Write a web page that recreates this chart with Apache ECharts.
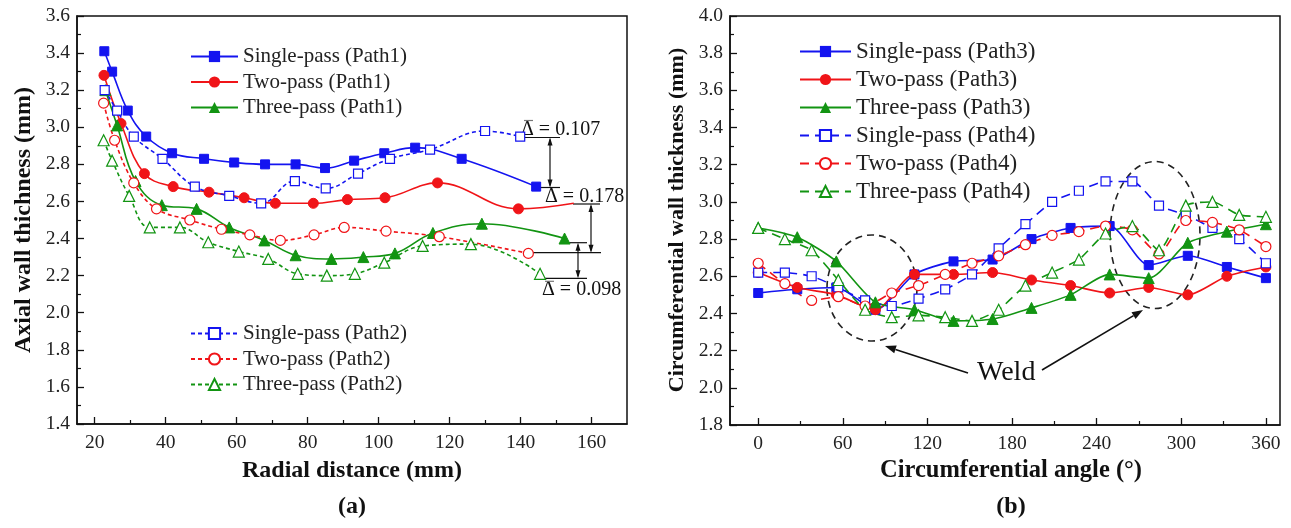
<!DOCTYPE html>
<html><head><meta charset="utf-8">
<script src="https://cdn.jsdelivr.net/npm/echarts@6/dist/echarts.min.js"></script>
<style>html,body{margin:0;padding:0;background:#fff}#c{width:1291px;height:528px}</style>
</head><body><div id="c"></div><script>
// ---------- (a) Axial wall thickness vs radial distance ----------
const p1SingleX = [22.7,24.9,29.3,34.5,41.8,50.8,59.3,68.0,76.6,84.9,93.1,101.6,110.3,123.4,144.4];
const p1SingleY = [3.41,3.30,3.09,2.95,2.86,2.83,2.81,2.80,2.80,2.78,2.82,2.86,2.89,2.83,2.68];
const p1TwoX = [22.6,27.4,34.0,42.1,52.2,62.1,70.9,81.6,91.2,101.8,116.6,139.4,155.0];
const p1TwoY = [3.28,3.02,2.75,2.68,2.65,2.62,2.59,2.59,2.61,2.62,2.70,2.56,2.59];
const p1ThreeX = [23.0,26.3,31.5,38.9,48.7,57.9,67.8,76.6,86.7,95.7,104.6,115.3,129.1,152.4];
const p1ThreeY = [3.20,3.01,2.71,2.58,2.56,2.46,2.39,2.31,2.29,2.30,2.32,2.43,2.48,2.40];
const p2SingleX = [22.8,26.3,31.0,39.1,48.2,57.9,66.9,76.4,85.1,94.2,103.2,114.5,130.0,139.9];
const p2SingleY = [3.20,3.09,2.95,2.83,2.68,2.63,2.59,2.71,2.67,2.75,2.83,2.88,2.98,2.95];
const p2TwoX = [22.5,25.6,31.0,37.4,46.8,55.7,63.7,72.3,81.8,90.3,102.1,117.1,142.2];
const p2TwoY = [3.13,2.93,2.70,2.56,2.50,2.45,2.42,2.39,2.42,2.46,2.44,2.41,2.32];
const p2ThreeX = [22.5,24.9,29.7,35.5,44.0,52.0,60.6,68.9,77.2,85.4,93.3,101.6,112.4,126.0,145.5];
const p2ThreeY = [2.93,2.82,2.63,2.46,2.46,2.38,2.33,2.29,2.21,2.20,2.21,2.27,2.36,2.37,2.21];
const radialTicks = [20,40,60,80,100,120,140,160];
const radialMinor = [30,50,70,90,110,130,150];

// ---------- (b) Circumferential wall thickness vs angle ----------
const anglesPath3 = [0,27.7,55.4,83.1,110.8,138.5,166.2,193.8,221.5,249.2,276.9,304.6,332.3,360];
const p3Single = [2.51,2.53,2.54,2.42,2.61,2.68,2.69,2.80,2.86,2.87,2.66,2.71,2.65,2.59];
const p3Two    = [2.62,2.54,2.50,2.42,2.61,2.61,2.62,2.58,2.55,2.51,2.54,2.50,2.60,2.65];
const p3Three  = [2.86,2.81,2.68,2.46,2.42,2.36,2.37,2.43,2.50,2.61,2.59,2.78,2.84,2.88];
const anglesPath4 = [0,18.9,37.9,56.8,75.8,94.7,113.7,132.6,151.6,170.5,189.5,208.4,227.4,246.3,265.3,284.2,303.2,322.1,341.1,360];
const p4Single = [2.62,2.62,2.60,2.54,2.47,2.44,2.48,2.53,2.61,2.75,2.88,3.00,3.06,3.11,3.11,2.98,2.93,2.86,2.80,2.67];
const p4Two    = [2.67,2.56,2.47,2.49,2.44,2.51,2.55,2.61,2.67,2.71,2.77,2.82,2.84,2.87,2.85,2.72,2.90,2.89,2.85,2.76];
const p4Three  = [2.86,2.80,2.74,2.58,2.42,2.38,2.39,2.38,2.36,2.42,2.55,2.62,2.69,2.83,2.87,2.74,2.98,3.00,2.93,2.92];
const angleTicks = [0,60,120,180,240,300,360];
const angleMinor = [30,90,150,210,270,330];

const BLUE = '#1414f0', RED = '#f01418', GREEN = '#129412';
const FONT = 'Liberation Serif';
const zip = (xs, ys) => xs.map((x, i) => [x, ys[i]]);

function ser(name, data, color, sym, open, dash, gi, smooth, size) {
  return {
    name, type: 'line', xAxisIndex: gi * 2, yAxisIndex: gi, data,
    smooth, symbol: sym, symbolSize: size,
    lineStyle: { color, width: 1.6, type: dash },
    itemStyle: open ? { color: '#fff', borderColor: color, borderWidth: 1.2 } : { color, borderColor: color },
    emphasis: { disabled: true }
  };
}
const redTwo1 = zip(p1TwoX, p1TwoY).map((d, i, a) => i === a.length - 1 ? { value: d, symbolSize: 0 } : d);

const series = [
  ser('Single-pass (Path1)', zip(p1SingleX, p1SingleY), BLUE, 'rect', false, 'solid', 0, 0.4, 9),
  ser('Two-pass (Path1)', redTwo1, RED, 'circle', false, 'solid', 0, 0.4, 10),
  ser('Three-pass (Path1)', zip(p1ThreeX, p1ThreeY), GREEN, 'triangle', false, 'solid', 0, 0.4, 11),
  ser('Single-pass (Path2)', zip(p2SingleX, p2SingleY), BLUE, 'rect', true, [4, 3], 0, 0.4, 9),
  ser('Two-pass (Path2)', zip(p2TwoX, p2TwoY), RED, 'circle', true, [4, 3], 0, 0.4, 10),
  ser('Three-pass (Path2)', zip(p2ThreeX, p2ThreeY), GREEN, 'triangle', true, [4, 3], 0, 0.4, 11),
  ser('Single-pass (Path3)', zip(anglesPath3, p3Single), BLUE, 'rect', false, 'solid', 1, 0.25, 9),
  ser('Two-pass (Path3)', zip(anglesPath3, p3Two), RED, 'circle', false, 'solid', 1, 0.25, 10),
  ser('Three-pass (Path3)', zip(anglesPath3, p3Three), GREEN, 'triangle', false, 'solid', 1, 0.25, 11),
  ser('Single-pass (Path4)', zip(anglesPath4, p4Single), BLUE, 'rect', true, [9, 6], 1, 0.2, 9),
  ser('Two-pass (Path4)', zip(anglesPath4, p4Two), RED, 'circle', true, [9, 6], 1, 0.2, 10),
  ser('Three-pass (Path4)', zip(anglesPath4, p4Three), GREEN, 'triangle', true, [9, 6], 1, 0.2, 11)
];

const lbl = { fontFamily: FONT, fontSize: 19.5, color: '#222' };
function xAxes(gi, min, max, major, minor) {
  return [
    { type: 'value', gridIndex: gi, min, max, position: 'bottom',
      axisLine: { show: true, onZero: false, lineStyle: { color: '#111', width: 1.5 } },
      axisTick: { show: true, inside: true, length: 7, customValues: major, lineStyle: { color: '#111', width: 1.3 } },
      axisLabel: Object.assign({ customValues: major, margin: 9 }, lbl),
      splitLine: { show: false } },
    { type: 'value', gridIndex: gi, min, max, position: 'bottom',
      axisLine: { show: false, onZero: false },
      axisTick: { show: true, inside: true, length: 4, customValues: minor, lineStyle: { color: '#111', width: 1.2 } },
      axisLabel: { show: false }, splitLine: { show: false } }
  ];
}
function yAxis(gi, min, max) {
  return { type: 'value', gridIndex: gi, min, max, interval: 0.2, position: 'left',
    axisLine: { show: true, onZero: false, lineStyle: { color: '#111', width: 1.5 } },
    axisTick: { show: true, inside: true, length: 7, lineStyle: { color: '#111', width: 1.3 } },
    minorTick: { show: true, splitNumber: 2, length: 4, lineStyle: { color: '#111', width: 1.2 } },
    axisLabel: Object.assign({ margin: 7, formatter: v => v.toFixed(1) }, lbl),
    splitLine: { show: false } };
}
function legend(names, left, top, w, fs, gap) {
  return { data: names, orient: 'vertical', left, top, itemWidth: w, itemHeight: 14, itemGap: gap,
    textStyle: { fontFamily: FONT, fontSize: fs, color: '#222', lineHeight: fs },
    selectedMode: false, inactiveColor: '#222' };
}

const black = { stroke: '#111', lineWidth: 1.2 };
function hl(x1, x2, y) { return { type: 'line', shape: { x1, y1: y, x2, y2: y }, style: black }; }
function dArrow(x, y1, y2) {
  return [
    { type: 'line', shape: { x1: x, y1: y1 + 2, x2: x, y2: y2 - 2 }, style: black },
    { type: 'polygon', shape: { points: [[x, y1], [x - 2.5, y1 + 8], [x + 2.5, y1 + 8]] }, style: { fill: '#111' } },
    { type: 'polygon', shape: { points: [[x, y2], [x - 2.5, y2 - 8], [x + 2.5, y2 - 8]] }, style: { fill: '#111' } }
  ];
}
function arrow(x1, y1, x2, y2) {
  const a = Math.atan2(y2 - y1, x2 - x1), L = 11, W = 4;
  const bx = x2 - L * Math.cos(a), by = y2 - L * Math.sin(a);
  const px = -Math.sin(a) * W, py = Math.cos(a) * W;
  return [
    { type: 'line', shape: { x1, y1, x2: bx, y2: by }, style: { stroke: '#111', lineWidth: 1.6 } },
    { type: 'polygon', shape: { points: [[x2, y2], [bx + px, by + py], [bx - px, by - py]] }, style: { fill: '#111' } }
  ];
}
function txt(x, y, text, fs, bold, align, rot) {
  return { type: 'text', x, y, rotation: rot || 0,
    style: { text, fontFamily: FONT, fontSize: fs, fontWeight: bold ? 'bold' : 'normal', fill: '#111',
      align: align || 'left', verticalAlign: 'middle' } };
}
const overline = (x1, x2, y) => ({ type: 'line', shape: { x1, y1: y, x2, y2: y }, style: { stroke: '#777', lineWidth: 1.2 } });

const graphic = [].concat(
  // annotations (a)
  [txt(521, 130, 'Δ = 0.107', 20), overline(524, 533, 120.5), hl(520, 560, 137.5), hl(540, 560, 187.5)],
  dArrow(550, 137.5, 187.5),
  [txt(545, 197, 'Δ = 0.178', 20), hl(573, 600, 204), hl(531, 601, 252.7)],
  dArrow(591, 204, 252.7),
  [hl(568, 587, 242.7), hl(543, 587, 278.3)],
  dArrow(578, 242.7, 278.3),
  [txt(542, 290, 'Δ = 0.098', 20), overline(545, 554, 281.3)],
  // weld annotations (b)
  [{ type: 'ellipse', shape: { cx: 872, cy: 288, rx: 45, ry: 53 }, style: { fill: 'none', stroke: '#222', lineWidth: 1.6, lineDash: [7, 5] } },
   { type: 'ellipse', shape: { cx: 1155, cy: 235, rx: 45, ry: 73.5 }, style: { fill: 'none', stroke: '#222', lineWidth: 1.6, lineDash: [7, 5] } },
   txt(977, 373, 'Weld', 28)],
  arrow(968, 373, 885, 346),
  arrow(1042, 370, 1143, 310),
  // axis titles
  [txt(24, 220, 'Axial wall thichness (mm)', 24, true, 'center', Math.PI / 2),
   txt(352, 471, 'Radial distance (mm)', 24, true, 'center'),
   txt(352, 507, '(a)', 24, true, 'center'),
   txt(677, 220, 'Circumferential wall thickness (mm)', 22, true, 'center', Math.PI / 2),
   txt(1011, 471, 'Circumferential angle (°)', 24.5, true, 'center'),
   txt(1011, 507, '(b)', 24, true, 'center')]
);

const chart = echarts.init(document.getElementById('c'), null, { renderer: 'canvas' });
chart.setOption({
  animation: false,
  backgroundColor: '#fff',
  grid: [
    { left: 77, top: 16, right: 664, bottom: 104, show: true, borderColor: '#111', borderWidth: 1.5, backgroundColor: 'transparent' },
    { left: 730, top: 16, right: 11, bottom: 103, show: true, borderColor: '#111', borderWidth: 1.5, backgroundColor: 'transparent' }
  ],
  xAxis: [].concat(xAxes(0, 15, 170, radialTicks, radialMinor), xAxes(1, -20, 370, angleTicks, angleMinor)),
  yAxis: [yAxis(0, 1.4, 3.6), yAxis(1, 1.8, 4.0)],
  legend: [
    legend(['Single-pass (Path1)', 'Two-pass (Path1)', 'Three-pass (Path1)'], 185, 41, 47, 21, 4.5),
    legend(['Single-pass (Path2)', 'Two-pass (Path2)', 'Three-pass (Path2)'], 185, 318, 47, 21, 4.5),
    legend(['Single-pass (Path3)', 'Two-pass (Path3)', 'Three-pass (Path3)', 'Single-pass (Path4)', 'Two-pass (Path4)', 'Three-pass (Path4)'], 794, 35, 51, 23, 5)
  ],
  series,
  graphic
});
</script></body></html>
